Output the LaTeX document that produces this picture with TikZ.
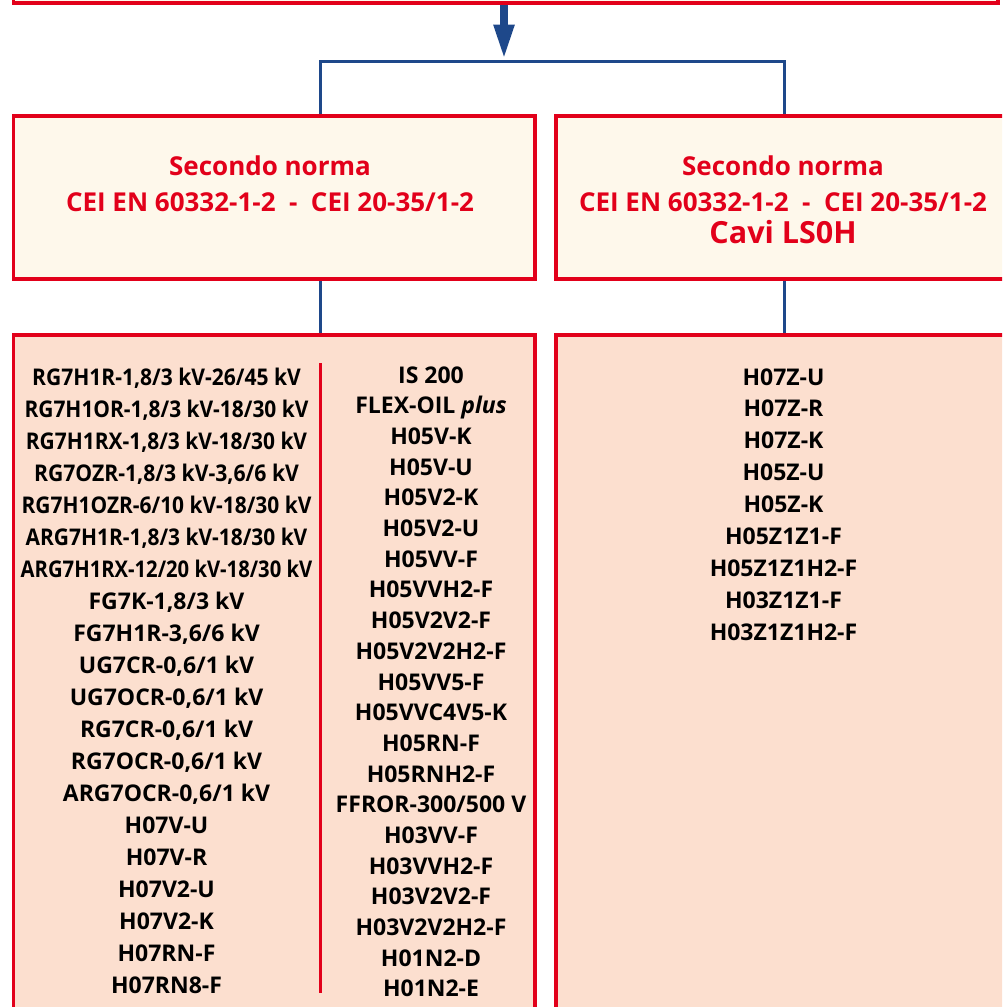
\documentclass[tikz,border=0pt]{standalone}
\usepackage{fontspec}
\setmainfont{Open Sans}
\usetikzlibrary{arrows.meta,backgrounds}
\definecolor{normred}{RGB}{226,0,26}
\definecolor{linkblue}{RGB}{30,72,138}
\definecolor{headfill}{RGB}{254,248,235}
\definecolor{listfill}{RGB}{252,223,207}
% condensed setting for the long cable designations
\newcommand{\squeezed}[2]{\scalebox{#1}[1]{#2}}
\tikzset{
  frame/.style={draw=normred, line width=3.6pt, inner sep=0pt, outer sep=0pt},
  headbox/.style={frame, fill=headfill},
  listbox/.style={frame, fill=listfill},
  link/.style={draw=linkblue, line width=3pt},
  normtext/.style={text=normred, font=\fontsize{26}{26}\selectfont\bfseries, inner sep=0pt, anchor=base},
  bigtext/.style={text=normred, font=\fontsize{30.5}{30.5}\selectfont\bfseries, inner sep=0pt, anchor=base},
  item/.style={font=\fontsize{23}{23}\selectfont\bfseries, inner sep=0pt, anchor=base},
}
\begin{document}
\begin{tikzpicture}[x=1pt,y=-1pt]
\useasboundingbox (0,0) rectangle (1002,1007);
\clip (0,0) rectangle (1002,1007);

% boxes
\node[headbox, minimum width=984.5pt, minimum height=100pt, anchor=south] (top) at (505.7,3) {};
\node[headbox, minimum width=521.6pt, minimum height=163pt, anchor=north west] (hl) at (13.4,116) {};
\node[headbox, minimum width=521.6pt, minimum height=163pt, anchor=north west] (hr) at (556,116) {};
\node[listbox, minimum width=521.6pt, minimum height=700pt, anchor=north west] (ll) at (13.4,335) {};
\node[listbox, minimum width=521.6pt, minimum height=700pt, anchor=north west] (lr) at (556,335) {};

% junction points of the connectors
\coordinate (jl) at (320.5,61);
\coordinate (jm) at (504,59.5);
\coordinate (jr) at (784,61);

\begin{pgfonlayer}{background}
  \draw[linkblue, line width=8pt, -{Triangle[length=35pt,width=19pt]}] (top.south -| jm) -- (jm);
  \draw[link] (hl.north -| jl) |- (jr) -- (hr.north -| jr);
  \draw[link] (hl.south -| jl) -- (ll.north -| jl);
  \draw[link] (hr.south -| jr) -- (lr.north -| jr);
\end{pgfonlayer}

% header texts
\node[normtext] (hl1) at (270,175) {Secondo norma};
\node[normtext] (hl2) at (270,211.7) {CEI EN 60332-1-2\ \ -\ \ CEI 20-35/1-2};
\node[normtext] (hr1) at (783,175) {Secondo norma};
\node[normtext] (hr2) at (783,211.7) {CEI EN 60332-1-2\ \ -\ \ CEI 20-35/1-2};
\node[bigtext] (hr3) at (783,243.3) {Cavi LS0H};

% column divider
\coordinate (d1) at (320,363);
\coordinate (d2) at (320,993);
\draw[normred, line width=3pt] (d1) -- (d2);

% cable lists
\foreach \t [count=\i from 0] in {%
  {\squeezed{0.915}{RG7H1R-1,8/3 kV-26/45 kV}},{\squeezed{0.91}{RG7H1OR-1,8/3 kV-18/30 kV}},
  {\squeezed{0.91}{RG7H1RX-1,8/3 kV-18/30 kV}},{\squeezed{0.92}{RG7OZR-1,8/3 kV-3,6/6 kV}},
  {\squeezed{0.91}{RG7H1OZR-6/10 kV-18/30 kV}},{\squeezed{0.91}{ARG7H1R-1,8/3 kV-18/30 kV}},
  {\squeezed{0.88}{ARG7H1RX-12/20 kV-18/30 kV}},{FG7K-1,8/3 kV},{FG7H1R-3,6/6 kV},{UG7CR-0,6/1 kV},
  {UG7OCR-0,6/1 kV},{RG7CR-0,6/1 kV},{RG7OCR-0,6/1 kV},{ARG7OCR-0,6/1 kV},
  {H07V-U},{H07V-R},{H07V2-U},{H07V2-K},{H07RN-F},{H07RN8-F}}
  \node[item] (a\i) at (166.5,385+32*\i) {\t};

\foreach \t [count=\i from 0] in {%
  {IS 200},{FLEX-OIL \textit{plus}},{H05V-K},{H05V-U},{H05V2-K},{H05V2-U},{H05VV-F},
  {H05VVH2-F},{H05V2V2-F},{H05V2V2H2-F},{H05VV5-F},{H05VVC4V5-K},{H05RN-F},
  {H05RNH2-F},{FFROR-300/500 V},{H03VV-F},{H03VVH2-F},{H03V2V2-F},{H03V2V2H2-F},
  {H01N2-D},{H01N2-E}}
  \node[item] (b\i) at (431,383.3+30.67*\i) {\t};

\foreach \t [count=\i from 0] in {%
  {H07Z-U},{H07Z-R},{H07Z-K},{H05Z-U},{H05Z-K},{H05Z1Z1-F},{H05Z1Z1H2-F},
  {H03Z1Z1-F},{H03Z1Z1H2-F}}
  \node[item] (c\i) at (783.5,385+31.9*\i) {\t};
\end{tikzpicture}
\end{document}
